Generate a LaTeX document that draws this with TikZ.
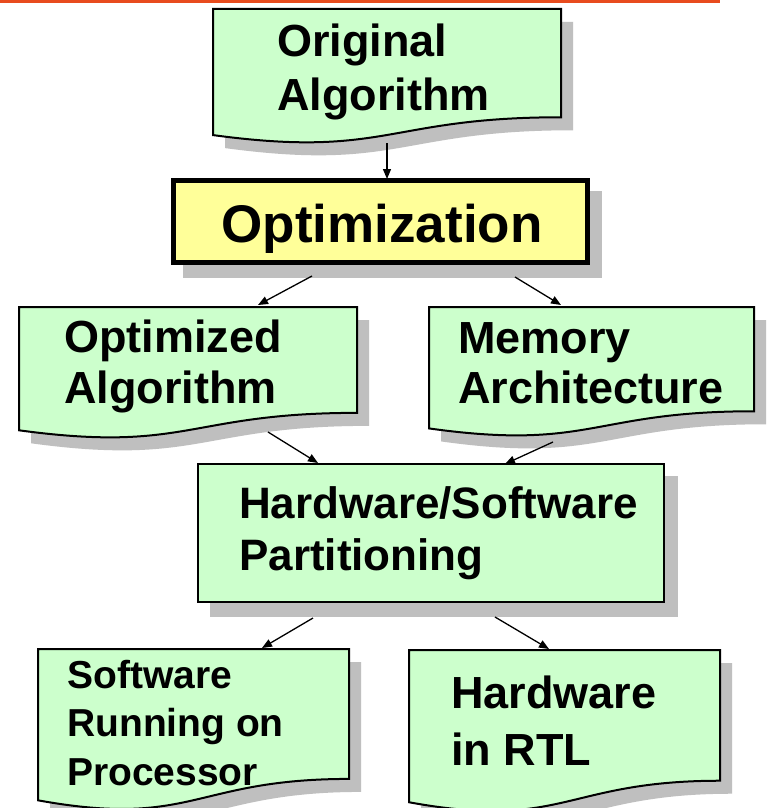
\documentclass[tikz,border=0pt]{standalone}
\usepackage{fontspec}
\setmainfont{Liberation Sans}
\usetikzlibrary{arrows.meta}
\definecolor{docgreen}{RGB}{204,255,204}
\definecolor{optyellow}{RGB}{255,255,153}
\definecolor{topline}{RGB}{232,75,30}
\newcommand\mydocpath[4]{(#1,#3) -- (#2,#3) -- (#2,{#3+0.802*#4}) .. controls ({(#1+#2)/2},{#3+0.802*#4}) and ({(#1+#2)/2},{#3+1.108*#4}) .. (#1,{#3+0.934*#4}) -- cycle}
\newcommand\mydoc[4]{%
  \fill[shad,shift={(12,13)}] \mydocpath{#1}{#2}{#3}{#4};
  \draw[docbox] \mydocpath{#1}{#2}{#3}{#4};}
\begin{document}
\begin{tikzpicture}[x=1pt,y=-1pt,
  docbox/.style={fill=docgreen,draw=black,line width=2pt},
  shad/.style={fill=black!25},
  lbl/.style={inner sep=0pt,anchor=base west,align=left},
  arr/.style={-{Triangle[length=10pt,width=8pt]},line width=1.3pt},
]
\useasboundingbox (0,0) rectangle (768,808);
\clip (0,0) rectangle (768,808);
\fill[white] (0,0) rectangle (768,808);
% top rule
\fill[topline] (0,0) rectangle (720,3);
% shapes
\mydoc{213}{561}{9}{135}
\fill[shad] (183,191) rectangle (602,278);
\draw[fill=optyellow,line width=5pt] (173.5,180.5) rectangle (587.5,262.5);
\mydoc{19}{357}{307}{132}
\mydoc{429}{754}{307}{130}
\fill[shad] (210,476) rectangle (678,617);
\draw[fill=docgreen,line width=2.5pt] (198,464) rectangle (664,602);
\mydoc{38}{349}{649}{162}
\mydoc{409}{720}{650}{163}
% texts (base anchor = baseline of last line)
\node[lbl,font=\bfseries\fontsize{45}{54}\selectfont] (orig) at (277,110) {Original\\Algorithm};
\node[lbl,anchor=base,font=\bfseries\fontsize{53}{60}\selectfont] (opt) at (382,242) {Optimization};
\node[lbl,font=\bfseries\fontsize{45}{51}\selectfont] (oalg) at (64,403) {Optimized\\Algorithm};
\node[lbl,font=\bfseries\fontsize{45}{50}\selectfont] (mem) at (458,403) {Memory\\Architecture};
\node[lbl,font=\bfseries\fontsize{44}{52}\selectfont] (hwsw) at (239,570) {Hardware/Software\\Partitioning};
\node[lbl,font=\bfseries\fontsize{39}{48.5}\selectfont] (sw) at (67,785) {Software\\Running on\\Processor};
\node[lbl,font=\bfseries\fontsize{45}{57}\selectfont] (hw) at (451,765) {Hardware\\in RTL};
% connector ends
\coordinate (a1s) at (387,143); \coordinate (a1e) at (387,179);
\coordinate (a2s) at (312,276); \coordinate (a2e) at (258,305);
\coordinate (a3s) at (515,277); \coordinate (a3e) at (561,305);
\coordinate (a4s) at (268,432); \coordinate (a4e) at (318,463);
\coordinate (a5s) at (553,442); \coordinate (a5e) at (505,464);
\coordinate (a6s) at (313,618); \coordinate (a6e) at (262,648);
\coordinate (a7s) at (495,617); \coordinate (a7e) at (549,649);
\foreach \i in {1,...,7} \draw[arr] (a\i s) -- (a\i e);
\end{tikzpicture}
\end{document}
